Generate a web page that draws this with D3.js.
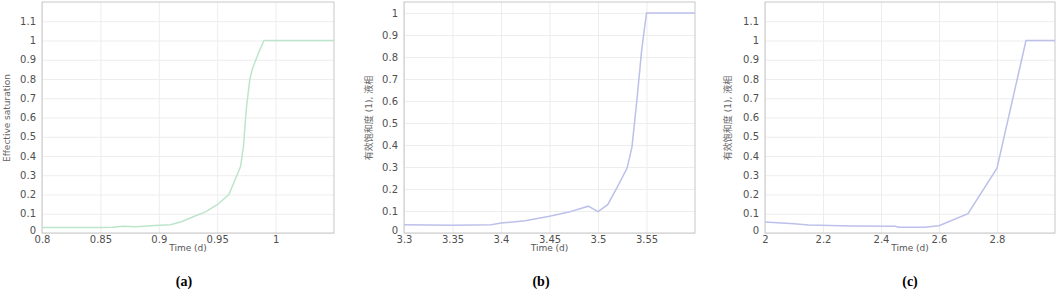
<!DOCTYPE html>
<html>
<head>
<meta charset="utf-8">
<script src="https://cdn.jsdelivr.net/npm/d3@7"></script>
<style>
  body { margin: 0; background: #fff; }
  svg { display: block; }
  .tick text { fill: #505050; font-family: "DejaVu Sans", sans-serif; font-size: 10px; }
  .grid line { stroke: #ededed; }
  .grid path { stroke: none; }
</style>
</head>
<body>
<svg id="chart" width="1059" height="291"></svg>
<script>
// panel (a)
var timeA = [0.8, 0.85, 0.86, 0.87, 0.88, 0.89, 0.9, 0.91, 0.92, 0.93, 0.94, 0.95, 0.96, 0.97, 0.9725, 0.975, 0.978, 0.98, 0.985, 0.99, 1.05];
var satA  = [0.029, 0.029, 0.03, 0.035, 0.033, 0.036, 0.04, 0.043, 0.06, 0.086, 0.11, 0.147, 0.2, 0.345, 0.45, 0.65, 0.8, 0.85, 0.93, 1.0, 1.0];
var xTicksA = [0.8, 0.85, 0.9, 0.95, 1];
var yTicksA = [0, 0.1, 0.2, 0.3, 0.4, 0.5, 0.6, 0.7, 0.8, 0.9, 1, 1.1];

// panel (b)
var timeB = [3.3, 3.35, 3.39, 3.4, 3.425, 3.45, 3.47, 3.49, 3.5, 3.51, 3.52, 3.53, 3.535, 3.54, 3.545, 3.55, 3.6];
var satB  = [0.038, 0.035, 0.038, 0.045, 0.056, 0.076, 0.095, 0.122, 0.097, 0.129, 0.21, 0.295, 0.39, 0.6, 0.83, 1.0, 1.0];
var xTicksB = [3.3, 3.35, 3.4, 3.45, 3.5, 3.55];
var yTicksB = [0, 0.1, 0.2, 0.3, 0.4, 0.5, 0.6, 0.7, 0.8, 0.9, 1];

// panel (c)
var timeC = [2.0, 2.1, 2.15, 2.3, 2.45, 2.46, 2.55, 2.6, 2.7, 2.8, 2.9, 3.0];
var satC  = [0.057, 0.048, 0.041, 0.036, 0.035, 0.03, 0.03, 0.038, 0.1, 0.337, 1.0, 1.0];
var xTicksC = [2, 2.2, 2.4, 2.6, 2.8];
var yTicksC = yTicksA;

var panels = [
  {left: 42, right: 334, xDom: [0.8, 1.05], yDom: [0, 1.2], xs: timeA, ys: satA, xt: xTicksA, yt: yTicksA,
   color: "#bde5cb", ylabel: "Effective saturation", ylx: 7, cap: "(a)", capx: 184},
  {left: 404, right: 695, xDom: [3.3, 3.6], yDom: [0, 1.05], xs: timeB, ys: satB, xt: xTicksB, yt: yTicksB,
   color: "#bcc0ea", ylabel: "有效饱和度 (1), 液相", ylx: 369, cap: "(b)", capx: 541},
  {left: 765, right: 1055, xDom: [2, 3], yDom: [0, 1.2], xs: timeC, ys: satC, xt: xTicksC, yt: yTicksC,
   color: "#bcc0ea", ylabel: "有效饱和度 (1), 液相", ylx: 728, cap: "(c)", capx: 910}
];

var plotTop = 2, plotBottom = 233;
var svg = d3.select("#chart");
var fmt = d3.format("~g");

panels.forEach(function(p) {
  var x = d3.scaleLinear().domain(p.xDom).range([p.left, p.right]);
  var y = d3.scaleLinear().domain(p.yDom).range([plotBottom, plotTop]);
  var g = svg.append("g");

  // grid
  g.append("g").attr("class", "grid")
    .attr("transform", "translate(0," + plotBottom + ")")
    .call(d3.axisBottom(x).tickValues(p.xt).tickSize(-(plotBottom - plotTop)).tickFormat(""));
  g.append("g").attr("class", "grid")
    .attr("transform", "translate(" + p.left + ",0)")
    .call(d3.axisLeft(y).tickValues(p.yt).tickSize(-(p.right - p.left)).tickFormat(""));

  // frame
  g.append("rect")
    .attr("x", p.left).attr("y", plotTop)
    .attr("width", p.right - p.left).attr("height", plotBottom - plotTop)
    .attr("fill", "none").attr("stroke", "#c8c8c8");

  // tick labels
  var xa = g.append("g")
    .attr("transform", "translate(0," + plotBottom + ")")
    .call(d3.axisBottom(x).tickValues(p.xt).tickSize(0).tickPadding(3).tickFormat(fmt));
  xa.select(".domain").remove();

  var ya = g.append("g")
    .attr("transform", "translate(" + p.left + ",0)")
    .call(d3.axisLeft(y).tickValues(p.yt).tickSize(0).tickPadding(6).tickFormat(fmt));
  ya.select(".domain").remove();
  ya.selectAll(".tick text").filter(function(d) { return d === 0; }).attr("dy", "0.05em");

  // line
  var pts = p.xs.map(function(v, i) { return [v, p.ys[i]]; });
  g.append("path")
    .datum(pts)
    .attr("fill", "none")
    .attr("stroke", p.color)
    .attr("stroke-width", 1.5)
    .attr("d", d3.line().x(function(d) { return x(d[0]); }).y(function(d) { return y(d[1]); }));

  // x label
  g.append("text")
    .attr("x", (p.left + p.right) / 2).attr("y", 251)
    .attr("text-anchor", "middle")
    .attr("fill", "#555")
    .style("font-family", "DejaVu Sans, sans-serif")
    .style("font-size", "9px")
    .text("Time (d)");

  // y label
  g.append("text")
    .attr("transform", "translate(" + p.ylx + "," + 118 + ") rotate(-90)")
    .attr("text-anchor", "middle")
    .attr("dy", "0.35em")
    .attr("fill", "#666")
    .style("font-family", "DejaVu Sans, 'Noto Sans CJK SC', sans-serif")
    .style("font-size", "9px")
    .text(p.ylabel);

  // caption
  svg.append("text")
    .attr("x", p.capx).attr("y", 286)
    .attr("text-anchor", "middle")
    .style("font-family", "'Liberation Serif', serif")
    .style("font-weight", "bold")
    .style("font-size", "14px")
    .text(p.cap);
});
</script>
</body>
</html>
